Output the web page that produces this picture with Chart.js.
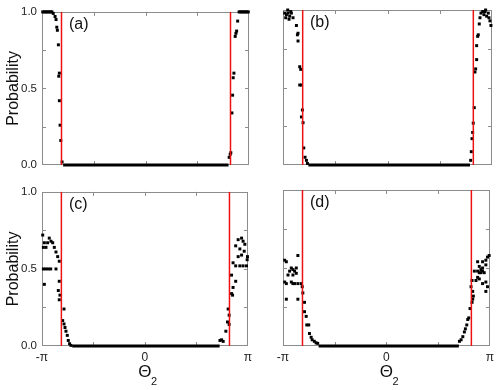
<!DOCTYPE html>
<html>
<head>
<meta charset="utf-8">
<script src="https://cdn.jsdelivr.net/npm/chart.js@4.4.1/dist/chart.umd.min.js"></script>
<style>
  body { margin: 0; background: #fff; }
  #wrap { position: relative; width: 498px; height: 390px; overflow: hidden; }
  canvas { position: absolute; }
</style>
</head>
<body>
<div id="wrap">
  <canvas id="pa" width="256" height="180" style="left:0;top:0"></canvas>
  <canvas id="pb" width="248" height="180" style="left:250px;top:0"></canvas>
  <canvas id="pc" width="256" height="210" style="left:0;top:180px"></canvas>
  <canvas id="pd" width="248" height="210" style="left:250px;top:180px"></canvas>
</div>
<script>
const PI = Math.PI;

// axis ticks
const xTickVals = [-PI, 0, PI];
const xTickLabels = ['-π', '0', 'π'];
const yTickVals = [0, 0.5, 1];
const yTickLabels = ['0.0', '0.5', '1.0'];
const xInnerTicks = [-PI / 2, 0, PI / 2];
const yInnerTicks = [0.25, 0.5, 0.75];

// red vertical markers
const redLines = [-2.55, 2.58];

// panel (a)
const xA = [-3.12, -3.08, -3.04, -3.0, -2.96, -2.92, -2.88, -2.84, -2.80, -2.745, -2.715, -2.693, -2.675, -2.644,
  -2.614, -2.633, -2.614, -2.593, -2.571, -2.532,
  2.54, 2.571, 2.59, 2.623, 2.644, 2.662, 2.684, 2.723, 2.745, 2.766, 2.797,
  2.84, 2.88, 2.92, 2.96, 3.0, 3.04, 3.08, 3.12];
const yA = [1, 1, 1, 1, 1, 1, 1, 1, 0.99, 0.97, 0.95, 0.90, 0.88, 0.785,
  0.60, 0.58, 0.42, 0.26, 0.16, 0.02,
  0.05, 0.07, 0.08, 0.34, 0.456, 0.57, 0.60, 0.84, 0.86, 0.875, 0.94,
  1, 1, 1, 1, 1, 1, 1, 1];
const zeroA = [-2.5, 2.52];

// panel (b)
const xB = [-3.09, -3.06, -3.04, -3.0, -2.99, -2.96, -2.94, -2.91, -2.889, -2.84, -2.738, -2.708, -2.69, -2.69,
  -2.639, -2.609, -2.639, -2.588, -2.558, -2.588, -2.539, -2.518, -2.479, -2.437, -2.407,
  2.50, 2.519, 2.54, 2.56, 2.578, 2.608, 2.629, 2.65, 2.68, 2.68, 2.71, 2.729, 2.759, 2.78, 2.81,
  2.862, 2.90, 2.93, 2.95, 2.98, 3.03, 3.05, 3.08, 3.11];
const yB = [0.98, 0.95, 0.97, 1.0, 0.98, 0.94, 0.96, 0.99, 0.98, 0.95, 0.90, 0.84, 0.85, 0.80,
  0.634, 0.617, 0.516, 0.516, 0.355, 0.31, 0.273, 0.11, 0.05, 0.03, 0.01,
  0.03, 0.086, 0.17, 0.21, 0.27, 0.37, 0.60, 0.62, 0.68, 0.77, 0.83, 0.84, 0.91, 0.95, 0.98,
  0.99, 0.97, 0.99, 1.0, 0.96, 0.98, 0.95, 0.93, 0.90];
const zeroB = [-2.38, 2.48];

// panel (c)
const xC = [-3.12, -3.07, -3.10, -3.02, -2.97, -2.92, -2.867, -2.815, -2.766, -2.715, -2.663, -2.614,
  -3.10, -3.03, -2.95, -2.876, -2.715, -3.07, -2.614, -2.644, -2.593, -2.614,
  -2.47, -2.51, -2.47, -2.44, -2.41, -2.37, -2.34, -2.30, -2.26,
  2.29, 2.34, 2.388, 2.47, 2.52, 2.57, 2.57, 2.54, 2.644, 2.675, 2.69, 2.77, 2.644,
  2.69, 2.77, 2.897, 2.996, 3.10, 2.845, 2.95, 3.12, 3.13, 2.77, 2.845, 2.95, 2.996, 3.05, 2.897, 3.03];
const yC = [0.72, 0.67, 0.64, 0.64, 0.67, 0.70, 0.68, 0.67, 0.64, 0.61, 0.58, 0.55,
  0.50, 0.50, 0.50, 0.50, 0.50, 0.40, 0.42, 0.36, 0.33, 0.30,
  0.24, 0.165, 0.143, 0.12, 0.096, 0.069, 0.036, 0.015, 0.004,
  0.036, 0.04, 0.03, 0.096, 0.156, 0.14, 0.20, 0.24, 0.34, 0.33, 0.38, 0.42, 0.46,
  0.54, 0.52, 0.52, 0.52, 0.52, 0.58, 0.59, 0.56, 0.58, 0.65, 0.69, 0.70, 0.68, 0.66, 0.63, 0.615];
const zeroC = [-2.22, 2.28];

// panel (d)
const xD = [-2.69, -3.09, -3.04, -2.889, -2.84, -2.79, -2.738, -2.94, -2.99, -2.84, -2.738,
  -3.09, -3.04, -2.889, -2.84, -2.79, -2.69, -2.588, -2.558, -2.539, -3.04, -2.69,
  -2.488, -2.488, -2.437, -2.42, -2.359, -2.338, -2.287, -2.256, -2.19, -2.136, -2.088,
  2.217, 2.268, 2.32, 2.368, 2.398, 2.44, 2.47, 2.50, 2.54, 2.60, 2.62, 2.64, 2.62, 2.57,
  2.60, 2.72, 2.77, 2.82, 2.67, 2.77, 2.82, 2.87, 2.92, 2.97, 3.02, 3.07, 3.02, 2.92,
  2.87, 2.92, 2.82, 2.77, 2.92, 3.02, 3.07, 3.12, 3.02];
const yD = [0.58, 0.55, 0.54, 0.50, 0.49, 0.48, 0.50, 0.48, 0.455, 0.455, 0.466,
  0.41, 0.40, 0.41, 0.40, 0.40, 0.40, 0.40, 0.38, 0.34, 0.30, 0.30,
  0.28, 0.22, 0.19, 0.135, 0.135, 0.08, 0.056, 0.04, 0.03, 0.02, 0.017,
  0.03, 0.04, 0.06, 0.09, 0.11, 0.135, 0.17, 0.18, 0.24, 0.28, 0.30, 0.32, 0.35, 0.38,
  0.42, 0.42, 0.44, 0.43, 0.48, 0.48, 0.47, 0.47, 0.48, 0.47, 0.41, 0.38, 0.35, 0.40,
  0.49, 0.50, 0.51, 0.54, 0.54, 0.55, 0.57, 0.58, 0.52];
const zeroD = [-2.06, 2.2];

Chart.defaults.font.family = "'Liberation Sans', Arial, sans-serif";
Chart.defaults.color = '#222';

const decor = {
  id: 'decor',
  beforeDatasetsDraw(chart) {
    const { ctx, chartArea: a, scales: { x, y } } = chart;
    ctx.save();
    ctx.strokeStyle = '#8c8c8c';
    ctx.lineWidth = 1;
    ctx.strokeRect(Math.round(a.left) + 0.5, Math.round(a.top) + 0.5,
      Math.round(a.right - a.left) - 1, Math.round(a.bottom - a.top) - 1);
    ctx.beginPath();
    xInnerTicks.forEach(v => {
      const px = Math.round(x.getPixelForValue(v)) + 0.5;
      ctx.moveTo(px, a.top); ctx.lineTo(px, a.top + 4);
      ctx.moveTo(px, a.bottom); ctx.lineTo(px, a.bottom - 4);
    });
    yInnerTicks.forEach(v => {
      const py = Math.round(y.getPixelForValue(v)) + 0.5;
      ctx.moveTo(a.left, py); ctx.lineTo(a.left + 4, py);
      ctx.moveTo(a.right, py); ctx.lineTo(a.right - 4, py);
    });
    ctx.stroke();
    ctx.restore();
  },
  afterDraw(chart, args, opts) {
    const { ctx, chartArea: a } = chart;
    ctx.save();
    ctx.fillStyle = '#111';
    ctx.textBaseline = 'middle';
    ctx.textAlign = 'left';
    ctx.font = "16px 'Liberation Sans', Arial, sans-serif";
    ctx.fillText(opts.tag, a.left + 27, a.top + 13);
    if (opts.xTitle) {
      const cx = (a.left + a.right) / 2;
      ctx.font = "17px 'Liberation Sans', Arial, sans-serif";
      ctx.textAlign = 'center';
      ctx.fillText('Θ', cx, a.bottom + 26);
      const w = ctx.measureText('Θ').width;
      ctx.font = "11px 'Liberation Sans', Arial, sans-serif";
      ctx.textAlign = 'left';
      ctx.fillText('2', cx + w / 2 - 0.5, a.bottom + 35.5);
    }
    ctx.restore();
  }
};

function points(xs, ys) {
  return xs.map((v, i) => ({ x: v, y: ys[i] }));
}

function makePanel(id, xs, ys, zero, o) {
  const datasets = [];
  redLines.forEach(r => {
    datasets.push({
      type: 'line', data: [{ x: r, y: 0 }, { x: r, y: 1 }],
      borderColor: '#ee1111', borderWidth: 1.5, pointRadius: 0, order: 0, clip: false
    });
  });
  datasets.push({
    type: 'scatter', data: points(xs, ys),
    pointStyle: 'rect', pointRadius: 2.1, backgroundColor: '#000', borderWidth: 0,
    order: 1, clip: false
  });
  datasets.push({
    type: 'line', data: [{ x: zero[0], y: 0 }, { x: zero[1], y: 0 }],
    borderColor: '#000', borderWidth: 3, pointRadius: 0, order: 2, clip: false
  });

  return new Chart(document.getElementById(id), {
    type: 'scatter',
    data: { datasets },
    options: {
      responsive: false,
      animation: false,
      devicePixelRatio: 1,
      layout: { padding: { top: 10, right: o.padRight, left: 0, bottom: 0 } },
      plugins: {
        legend: { display: false },
        tooltip: { enabled: false },
        decor: { tag: o.tag, xTitle: o.xLabels }
      },
      scales: {
        x: {
          type: 'linear', min: -PI, max: PI,
          grid: { display: false, drawTicks: false },
          border: { display: false },
          afterBuildTicks: axis => { axis.ticks = xTickVals.map(v => ({ value: v })); },
          afterFit: axis => { axis.height = o.xHeight; },
          ticks: {
            display: o.xLabels, padding: 4, font: { size: 12 },
            callback: (v, i) => xTickLabels[i]
          }
        },
        y: {
          type: 'linear', min: 0, max: 1,
          grid: { display: false, drawTicks: false },
          border: { display: false },
          afterBuildTicks: axis => { axis.ticks = yTickVals.map(v => ({ value: v })); },
          afterFit: axis => { axis.width = o.yWidth; },
          ticks: {
            display: o.yLabels, padding: 5, font: { size: 11.5 },
            callback: (v, i) => yTickLabels[i]
          },
          title: {
            display: o.yLabels, text: 'Probability', color: '#111',
            font: { size: 16 }, padding: { top: 4, bottom: 0 }
          }
        }
      }
    },
    plugins: [decor]
  });
}

makePanel('pa', xA, yA, zeroA, { tag: '(a)', xLabels: false, yLabels: true, xHeight: 15, yWidth: 42, padRight: 7 });
makePanel('pb', xB, yB, zeroB, { tag: '(b)', xLabels: false, yLabels: false, xHeight: 15, yWidth: 33, padRight: 6 });
makePanel('pc', xC, yC, zeroC, { tag: '(c)', xLabels: true, yLabels: true, xHeight: 44, yWidth: 42, padRight: 7 });
makePanel('pd', xD, yD, zeroD, { tag: '(d)', xLabels: true, yLabels: false, xHeight: 44, yWidth: 33, padRight: 6 });
</script>
</body>
</html>
